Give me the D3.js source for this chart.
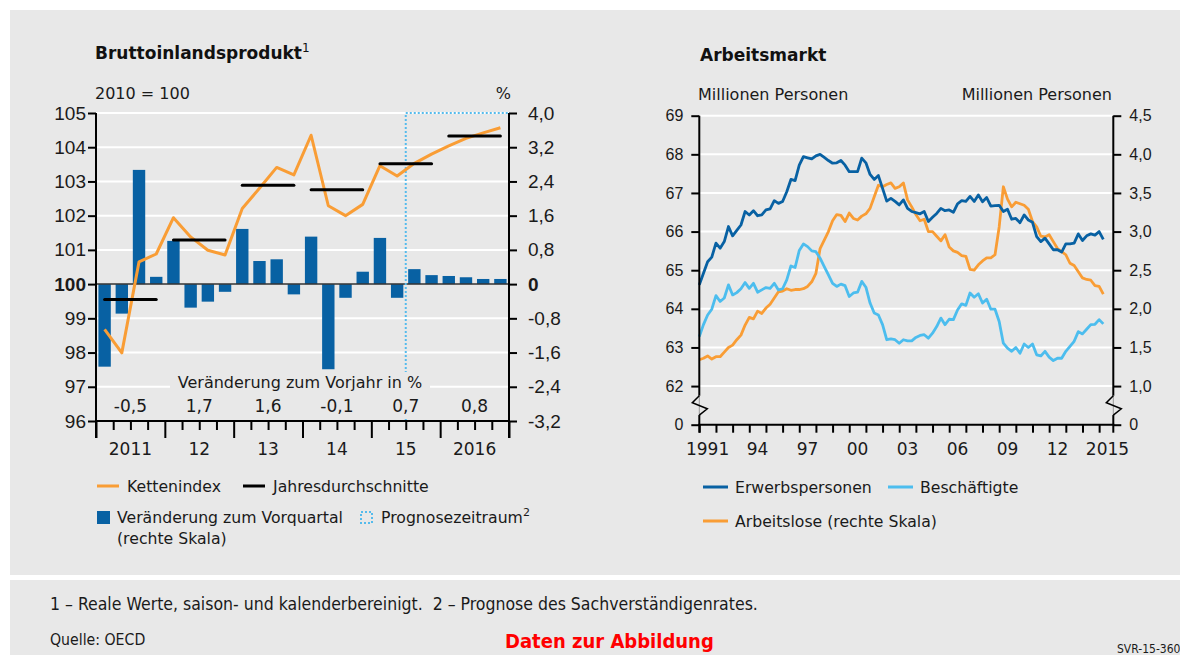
<!DOCTYPE html>
<html lang="de">
<head>
  <meta charset="UTF-8">
  <title>Bruttoinlandsprodukt und Arbeitsmarkt</title>
  <script src="https://d3js.org/d3.v7.min.js"></script>
  <style>
    body { margin: 0; background: #fff; }
    svg { display: block; font-family: "DejaVu Sans", sans-serif; }
    .axis text { font-size: 17px; fill: #1a1a1a; }
    .axis line { stroke: #000; stroke-width: 2; }
    .big text { font-size: 19px; }
    .small text { font-size: 16px; }
    .lbl { font-size: 16px; fill: #1a1a1a; }
    .leg { font-size: 15.7px; fill: #1a1a1a; }
    .title { font-size: 17px; font-weight: bold; fill: #111; }
    .foot { font-family: "DejaVu Sans Condensed", "DejaVu Sans", sans-serif; fill: #1a1a1a; }
  </style>
</head>
<body>
  <svg width="1180" height="655"></svg>
  <script>
    // Bruttoinlandsprodukt (Quartale 2011-2016)
    const years = ["2011", "12", "13", "14", "15", "2016"];
    const quarters = years.flatMap((y, i) => [1, 2, 3, 4].map(q => (2011 + i) + "Q" + q));
    const vorquartal = [-1.93, -0.69, 2.67, 0.17, 1.01, -0.55, -0.41, -0.18,
                        1.29, 0.54, 0.58, -0.24, 1.11, -1.99, -0.32, 0.29,
                        1.08, -0.32, 0.35, 0.21, 0.19, 0.16, 0.12, 0.12];
    const kettenindex = [98.68, 97.99, 100.65, 100.88, 101.94, 101.38, 100.99, 100.85,
                         102.21, 102.80, 103.41, 103.19, 104.35, 102.29, 102.00, 102.33,
                         103.46, 103.16, 103.53, 103.80, 104.04, 104.26, 104.42, 104.57];
    const jahresdurchschnitt = [99.55, 101.29, 102.89, 102.76, 103.52, 104.33];
    const vorjahr = ["-0,5", "1,7", "1,6", "-0,1", "0,7", "0,8"];
    const prognoseStart = "2015Q3";

    // Arbeitsmarkt (Quartale ab 1991Q1)
    const erwerbspersonen = [64.62, 64.92, 65.22, 65.34, 65.70, 65.57, 65.74, 66.13, 65.89, 66.03,
      66.17, 66.52, 66.43, 66.54, 66.41, 66.43, 66.56, 66.59, 66.80, 66.73,
      66.78, 67.03, 67.35, 67.32, 67.72, 67.94, 67.91, 67.88, 67.96, 68.00,
      67.92, 67.84, 67.77, 67.78, 67.84, 67.72, 67.55, 67.55, 67.55, 67.90,
      67.78, 67.48, 67.35, 67.45, 67.12, 66.79, 66.86, 66.78, 66.69, 66.82,
      66.60, 66.52, 66.49, 66.46, 66.52, 66.26, 66.37, 66.47, 66.60, 66.54,
      66.56, 66.50, 66.72, 66.80, 66.78, 66.91, 66.78, 66.95, 66.77, 66.88,
      66.66, 66.67, 66.68, 66.52, 66.58, 66.32, 66.34, 66.23, 66.43, 66.30,
      66.24, 65.87, 65.74, 65.83, 65.68, 65.53, 65.53, 65.47, 65.68, 65.68,
      65.70, 65.94, 65.77, 65.89, 65.94, 65.91, 66.00, 65.80];
    const beschaeftigte = [63.28, 63.59, 63.84, 63.99, 64.34, 64.19, 64.28, 64.62, 64.36, 64.42,
      64.52, 64.68, 64.53, 64.66, 64.43, 64.49, 64.55, 64.53, 64.66, 64.49,
      64.52, 64.75, 65.11, 65.07, 65.51, 65.68, 65.61, 65.50, 65.48, 65.31,
      65.09, 64.88, 64.66, 64.58, 64.64, 64.60, 64.32, 64.41, 64.43, 64.71,
      64.56, 64.15, 63.89, 63.84, 63.59, 63.20, 63.22, 63.20, 63.11, 63.20,
      63.17, 63.17, 63.26, 63.31, 63.33, 63.24, 63.37, 63.54, 63.76, 63.59,
      63.73, 63.72, 63.97, 64.13, 64.09, 64.41, 64.30, 64.39, 64.15, 64.25,
      63.99, 63.99, 63.67, 63.11, 62.98, 62.90, 63.00, 62.85, 63.09, 63.00,
      63.09, 62.81, 62.78, 62.90, 62.75, 62.66, 62.72, 62.72, 62.90, 63.03,
      63.16, 63.41, 63.35, 63.47, 63.59, 63.60, 63.72, 63.61];
    const arbeitslose = [1.34, 1.36, 1.39, 1.35, 1.38, 1.38, 1.44, 1.50, 1.53, 1.60,
      1.66, 1.79, 1.89, 1.87, 1.97, 1.94, 2.01, 2.06, 2.14, 2.22,
      2.23, 2.26, 2.24, 2.25, 2.25, 2.26, 2.29, 2.35, 2.46, 2.78,
      2.89, 3.00, 3.14, 3.22, 3.21, 3.13, 3.24, 3.17, 3.15, 3.20,
      3.23, 3.30, 3.45, 3.60, 3.58, 3.61, 3.63, 3.56, 3.58, 3.63,
      3.41, 3.32, 3.22, 3.14, 3.16, 3.00, 3.00, 2.94, 2.88, 2.96,
      2.80, 2.75, 2.73, 2.69, 2.68, 2.51, 2.50, 2.57, 2.62, 2.66,
      2.66, 2.70, 3.06, 3.58, 3.42, 3.32, 3.38, 3.36, 3.34, 3.29,
      3.13, 3.06, 2.94, 2.93, 2.96, 2.87, 2.78, 2.74, 2.70, 2.59,
      2.56, 2.48, 2.40, 2.38, 2.37, 2.30, 2.29, 2.19];
    const xTickYears = [1991, 1994, 1997, 2000, 2003, 2006, 2009, 2012, 2015];
    const xTickLabels = ["1991", "94", "97", "00", "03", "06", "09", "12", "2015"];

    const bg = "#e8e8e8",
          blue = "#0861a3",
          lightBlue = "#4cbdee",
          orange = "#f99d35";

    const svg = d3.select("svg");

    svg.append("rect").attr("x", 10).attr("y", 10).attr("width", 1170).attr("height", 565).attr("fill", bg);
    svg.append("rect").attr("x", 10).attr("y", 580).attr("width", 1170).attr("height", 75).attr("fill", bg);

    // ---------- linke Grafik ----------
    const L = {left: 96, right: 509, top: 113, bottom: 421};
    const x = d3.scaleBand().domain(quarters).range([L.left, L.right]).paddingInner(0.28).paddingOuter(0.14);
    const xq = d3.scaleLinear().domain([0, quarters.length]).range([L.left, L.right]);
    const yL = d3.scaleLinear().domain([96, 105]).range([L.bottom, L.top]);
    const yR = d3.scaleLinear().domain([-3.2, 4.0]).range([L.bottom, L.top]);
    const cx = q => x(q) + x.bandwidth() / 2;

    const g1 = svg.append("g");

    g1.append("g").selectAll("line")
      .data(d3.range(97, 106).filter(d => d !== 100))
      .join("line")
      .attr("x1", L.left).attr("x2", L.right)
      .attr("y1", d => yL(d)).attr("y2", d => yL(d))
      .attr("stroke", "#fff").attr("stroke-width", 2);

    g1.append("g").selectAll("rect")
      .data(vorquartal)
      .join("rect")
      .attr("x", (d, i) => x(quarters[i]))
      .attr("width", x.bandwidth())
      .attr("y", d => yR(Math.max(0, d)))
      .attr("height", d => Math.abs(yR(d) - yR(0)))
      .attr("fill", blue);

    g1.append("line")
      .attr("x1", L.left).attr("x2", L.right)
      .attr("y1", yL(100)).attr("y2", yL(100))
      .attr("stroke", "#333").attr("stroke-width", 1.5);

    const xProg = x(prognoseStart) - x.step() * x.paddingInner() / 2;
    g1.append("path")
      .attr("d", `M${xProg},${L.bottom}V${L.top}H${L.right + 1}`)
      .attr("fill", "none")
      .attr("stroke", "#55bbec")
      .attr("stroke-width", 2)
      .attr("stroke-dasharray", "2,2");

    // Hintergrund unter "Veränderung zum Vorjahr"
    g1.append("rect")
      .attr("x", 170).attr("y", 372).attr("width", 260).attr("height", 47)
      .attr("fill", bg);

    g1.append("path")
      .datum(kettenindex)
      .attr("fill", "none")
      .attr("stroke", orange)
      .attr("stroke-width", 3)
      .attr("stroke-linejoin", "round")
      .attr("d", d3.line().x((d, i) => cx(quarters[i])).y(d => yL(d)));

    g1.append("g").selectAll("line")
      .data(jahresdurchschnitt)
      .join("line")
      .attr("x1", (d, i) => cx(quarters[i * 4]))
      .attr("x2", (d, i) => cx(quarters[i * 4 + 3]))
      .attr("y1", d => yL(d)).attr("y2", d => yL(d))
      .attr("stroke", "#000").attr("stroke-width", 3).attr("stroke-linecap", "round");

    // Achsen
    g1.append("g")
      .attr("class", "axis big")
      .attr("transform", `translate(${L.left},0)`)
      .call(d3.axisLeft(yL).tickValues(d3.range(96, 106)).tickSize(8).tickPadding(2).tickFormat(d3.format("d")))
      .call(g => g.select(".domain").remove())
      .call(g => g.selectAll("text").filter(d => d === 100).style("font-weight", "bold"));

    g1.append("g")
      .attr("class", "axis big")
      .attr("transform", `translate(${L.right},0)`)
      .call(d3.axisRight(yR).tickValues([-3.2, -2.4, -1.6, -0.8, 0, 0.8, 1.6, 2.4, 3.2, 4.0])
        .tickSize(8).tickPadding(11)
        .tickFormat(d => d === 0 ? "0" : d.toFixed(1).replace(".", ",")))
      .call(g => g.select(".domain").remove())
      .call(g => g.selectAll("text").filter(d => d === 0).style("font-weight", "bold"));

    g1.append("g")
      .attr("class", "axis")
      .attr("transform", `translate(0,${L.bottom})`)
      .call(d3.axisBottom(xq).tickValues(d3.range(0, quarters.length + 1)).tickSize(9).tickFormat(""))
      .call(g => g.select(".domain").remove())
      .call(g => g.selectAll(".tick line").filter(d => d % 4 === 0).attr("y2", 17));

    g1.append("line").attr("x1", L.left - 1).attr("x2", L.right + 1).attr("y1", L.bottom).attr("y2", L.bottom)
      .attr("stroke", "#000").attr("stroke-width", 2);
    [L.left, L.right].forEach(xx => g1.append("line")
      .attr("x1", xx).attr("x2", xx).attr("y1", L.top).attr("y2", L.bottom + 17)
      .attr("stroke", "#000").attr("stroke-width", 2));

    g1.append("g").selectAll("text")
      .data(years)
      .join("text")
      .attr("class", "lbl")
      .style("font-size", "17px")
      .attr("x", (d, i) => (xq(i * 4) + xq(i * 4 + 4)) / 2)
      .attr("y", 455)
      .attr("text-anchor", "middle")
      .text(d => d);

    g1.append("g").selectAll("text")
      .data(vorjahr)
      .join("text")
      .attr("class", "lbl")
      .style("font-size", "17px")
      .attr("x", (d, i) => (xq(i * 4) + xq(i * 4 + 4)) / 2)
      .attr("y", 412)
      .attr("text-anchor", "middle")
      .text(d => d);

    g1.append("text").attr("class", "lbl").attr("x", 300).attr("y", 388).attr("text-anchor", "middle")
      .text("Veränderung zum Vorjahr in %");

    const t1 = g1.append("text").attr("class", "title").attr("x", 95).attr("y", 59);
    t1.append("tspan").text("Bruttoinlandsprodukt");
    t1.append("tspan").attr("dy", -7).style("font-size", "12px").style("font-weight", "normal").text("1");

    g1.append("text").attr("class", "lbl").attr("x", 95).attr("y", 99).text("2010 = 100");
    g1.append("text").attr("class", "lbl").attr("x", 511).attr("y", 99).attr("text-anchor", "end").text("%");

    // Legende links
    g1.append("line").attr("x1", 97).attr("x2", 119).attr("y1", 486).attr("y2", 486).attr("stroke", orange).attr("stroke-width", 3);
    g1.append("text").attr("class", "leg").attr("x", 127).attr("y", 491.5).text("Kettenindex");
    g1.append("line").attr("x1", 243).attr("x2", 265).attr("y1", 486).attr("y2", 486).attr("stroke", "#000").attr("stroke-width", 3);
    g1.append("text").attr("class", "leg").attr("x", 273).attr("y", 491.5).text("Jahresdurchschnitte");
    g1.append("rect").attr("x", 97).attr("y", 511).attr("width", 13).attr("height", 13).attr("fill", blue);
    g1.append("text").attr("class", "leg").attr("x", 117).attr("y", 523).text("Veränderung zum Vorquartal");
    g1.append("text").attr("class", "leg").attr("x", 117).attr("y", 544).text("(rechte Skala)");
    g1.append("rect").attr("x", 361).attr("y", 512).attr("width", 11).attr("height", 11)
      .attr("fill", "none").attr("stroke", "#55bbec").attr("stroke-width", 2).attr("stroke-dasharray", "2,2");
    const pl = g1.append("text").attr("class", "leg").attr("x", 381).attr("y", 523);
    pl.append("tspan").text("Prognosezeitraum");
    pl.append("tspan").attr("dy", -7).style("font-size", "11px").text("2");

    // ---------- rechte Grafik ----------
    const R = {left: 699.3, right: 1113.3, top: 115.7, bottom: 424.7};
    const xr = d3.scaleLinear().domain([1991, 2015.85]).range([R.left, R.right]);
    const yr = d3.scaleLinear().domain([61, 69]).range([R.bottom, R.top]);      // 61 = Achsenbruch (0)
    const yr2 = d3.scaleLinear().domain([0.5, 4.5]).range([R.bottom, R.top]);  // 0,5 = Achsenbruch (0)
    const tq = i => 1991 + i / 4;

    const g2 = svg.append("g");

    g2.append("g").selectAll("line")
      .data(d3.range(62, 70))
      .join("line")
      .attr("x1", R.left).attr("x2", R.right)
      .attr("y1", d => yr(d)).attr("y2", d => yr(d))
      .attr("stroke", "#fff").attr("stroke-width", 2);

    const lineL = d3.line().x((d, i) => xr(tq(i))).y(d => yr(d));
    const lineR = d3.line().x((d, i) => xr(tq(i))).y(d => yr2(d));

    g2.append("path").datum(arbeitslose).attr("fill", "none").attr("stroke", orange)
      .attr("stroke-width", 2.8).attr("stroke-linejoin", "round").attr("d", lineR);
    g2.append("path").datum(beschaeftigte).attr("fill", "none").attr("stroke", lightBlue)
      .attr("stroke-width", 2.8).attr("stroke-linejoin", "round").attr("d", lineL);
    g2.append("path").datum(erwerbspersonen).attr("fill", "none").attr("stroke", blue)
      .attr("stroke-width", 2.8).attr("stroke-linejoin", "round").attr("d", lineL);

    g2.append("g")
      .attr("class", "axis small")
      .attr("transform", `translate(${R.left},0)`)
      .call(d3.axisLeft(yr).tickValues(d3.range(61, 70)).tickSize(8).tickPadding(8)
        .tickFormat(d => d === 61 ? "0" : d))
      .call(g => g.select(".domain").remove());

    g2.append("g")
      .attr("class", "axis small")
      .attr("transform", `translate(${R.right},0)`)
      .call(d3.axisRight(yr2).tickValues(d3.range(0.5, 4.6, 0.5)).tickSize(8).tickPadding(8)
        .tickFormat(d => d === 0.5 ? "0" : d.toFixed(1).replace(".", ",")))
      .call(g => g.select(".domain").remove());

    g2.append("g")
      .attr("class", "axis")
      .attr("transform", `translate(0,${R.bottom})`)
      .call(d3.axisBottom(xr).tickValues(d3.range(1991, 2016)).tickSize(8).tickFormat(""))
      .call(g => g.select(".domain").remove());

    g2.append("line").attr("x1", R.left - 1).attr("x2", R.right + 1).attr("y1", R.bottom).attr("y2", R.bottom)
      .attr("stroke", "#000").attr("stroke-width", 2);

    // senkrechte Achsen mit Bruch
    const brk0 = yr(61.75), brk1 = yr(61.25);
    [R.left, R.right].forEach(xx => {
      g2.append("line").attr("x1", xx).attr("x2", xx).attr("y1", R.top).attr("y2", brk0)
        .attr("stroke", "#000").attr("stroke-width", 2);
      g2.append("line").attr("x1", xx).attr("x2", xx).attr("y1", brk0).attr("y2", brk1)
        .attr("stroke", "#999").attr("stroke-width", 1);
      g2.append("path")
        .attr("d", `M${xx},${brk0}L${xx - 7},${brk0 + 7}L${xx + 8},${brk0 + 13}L${xx},${brk1}`)
        .attr("fill", "none").attr("stroke", "#000").attr("stroke-width", 1.5);
      g2.append("line").attr("x1", xx).attr("x2", xx).attr("y1", brk1).attr("y2", R.bottom + 8)
        .attr("stroke", "#000").attr("stroke-width", 2);
    });

    g2.append("g").selectAll("text")
      .data(xTickYears)
      .join("text")
      .attr("class", "lbl")
      .style("font-size", "17px")
      .attr("x", d => xr(d + 0.5))
      .attr("y", 455)
      .attr("text-anchor", "middle")
      .text((d, i) => xTickLabels[i]);

    g2.append("text").attr("class", "title").attr("x", 700).attr("y", 61).text("Arbeitsmarkt");
    g2.append("text").attr("class", "lbl").attr("x", 698).attr("y", 100).text("Millionen Personen");
    g2.append("text").attr("class", "lbl").attr("x", 1112).attr("y", 100).attr("text-anchor", "end").text("Millionen Personen");

    // Legende rechts
    const legR = [
      {label: "Erwerbspersonen", color: blue, x: 703, y: 487},
      {label: "Beschäftigte", color: lightBlue, x: 888, y: 487},
      {label: "Arbeitslose (rechte Skala)", color: orange, x: 703, y: 521}
    ];
    legR.forEach(d => {
      g2.append("line").attr("x1", d.x).attr("x2", d.x + 25).attr("y1", d.y).attr("y2", d.y)
        .attr("stroke", d.color).attr("stroke-width", 3);
      g2.append("text").attr("class", "leg").attr("x", d.x + 32).attr("y", d.y + 5.5).text(d.label);
    });

    // ---------- Fußzeile ----------
    svg.append("text").attr("class", "foot").attr("x", 50).attr("y", 610)
      .style("font-size", "17.5px").style("white-space", "pre")
      .text("1 – Reale Werte, saison- und kalenderbereinigt.  2 – Prognose des Sachverständigenrates.");
    svg.append("text").attr("class", "foot").attr("x", 50).attr("y", 645)
      .style("font-size", "15.7px").text("Quelle: OECD");
    svg.append("text").attr("class", "foot").attr("x", 505).attr("y", 648)
      .style("font-size", "20px").style("font-weight", "bold").style("fill", "#f00")
      .text("Daten zur Abbildung");
    svg.append("text").attr("class", "foot").attr("x", 1117).attr("y", 653)
      .style("font-size", "12px").text("SVR-15-360");
  </script>
</body>
</html>
